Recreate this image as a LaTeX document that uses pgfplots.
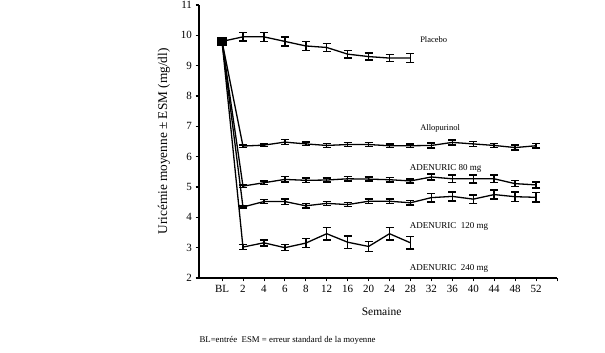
\documentclass[border=0pt]{standalone}
\usepackage{pgfplots}
\pgfplotsset{compat=1.18}
\usepackage{pgfplotstable}
\usepackage{fontspec}
\setmainfont{Liberation Serif}

\pgfplotstableread{
x y e
0 9.80 0
1 9.95 0.14
2 9.95 0.15
3 9.80 0.15
4 9.65 0.15
5 9.60 0.13
6 9.38 0.12
7 9.30 0.11
8 9.25 0.12
9 9.25 0.15
}\placebo
\pgfplotstableread{
x y e
0 9.80 0
1 6.35 0.04
2 6.38 0.04
3 6.48 0.08
4 6.42 0.06
5 6.37 0.06
6 6.40 0.06
7 6.40 0.06
8 6.36 0.06
9 6.36 0.06
10 6.37 0.08
11 6.47 0.08
12 6.42 0.08
13 6.37 0.07
14 6.30 0.08
15 6.36 0.08
}\allo
\pgfplotstableread{
x y e
0 9.80 0
1 5.03 0.04
2 5.14 0.05
3 5.25 0.09
4 5.22 0.07
5 5.23 0.07
6 5.27 0.08
7 5.26 0.07
8 5.24 0.07
9 5.20 0.07
10 5.33 0.10
11 5.27 0.12
12 5.27 0.13
13 5.27 0.12
14 5.11 0.10
15 5.07 0.10
}\aeighty
\pgfplotstableread{
x y e
0 9.80 0
1 4.34 0.04
2 4.52 0.07
3 4.52 0.09
4 4.38 0.07
5 4.46 0.07
6 4.42 0.07
7 4.53 0.08
8 4.53 0.07
9 4.48 0.08
10 4.65 0.14
11 4.69 0.15
12 4.60 0.14
13 4.75 0.15
14 4.68 0.15
15 4.66 0.16
}\aonetwenty
\pgfplotstableread{
x y e
0 9.80 0
1 3.02 0.08
2 3.16 0.10
3 3.00 0.10
4 3.15 0.15
5 3.46 0.20
6 3.18 0.20
7 3.04 0.17
8 3.46 0.20
9 3.16 0.20
}\atwoforty

\begin{document}
\begin{tikzpicture}[x=1pt,y=1pt]
\useasboundingbox (0,0) rectangle (605,353);
\begin{axis}[
  at={(199pt,75pt)}, anchor=south west,
  scale only axis, width=358pt, height=273pt,
  xmin=-1.1, xmax=16, ymin=2, ymax=11,
  axis x line*=bottom, axis y line*=left,
  axis line style={line width=1.4pt, -},
  xtick={0,...,15},
  xticklabels={BL,2,4,6,8,12,16,20,24,28,32,36,40,44,48,52},
  extra x ticks={16}, extra x tick labels={},
  ytick={2,...,11},
  x tick style={line width=0.8pt, black},
  y tick style={line width=1.2pt, black},
  tick align=outside, major tick length=3.5pt,
  tick label style={font=\fontsize{11}{12}\selectfont},
  /pgf/number format/assume math mode=true,
  xlabel={Semaine},
  ylabel={Uricémie moyenne ± ESM (mg/dl)},
  xlabel style={font=\fontsize{11.5}{13}\selectfont, at={(axis description cs:0.51,-0.125)}, anchor=center},
  ylabel style={font=\fontsize{13.3}{15}\selectfont, at={(axis description cs:-0.098,0.5)}, anchor=center},
  cycle list={{black,solid,mark=none}},
  every axis plot/.append style={line width=1.3pt},
  error bars/y dir=both, error bars/y explicit,
  error bars/error bar style={line width=1.5pt, black},
  error bars/error mark options={rotate=90, mark size=4pt, line width=1.5pt, black},
  clip=false,
]
\addplot table[x=x,y=y,y error=e] {\placebo};
\addplot table[x=x,y=y,y error=e] {\allo};
\addplot table[x=x,y=y,y error=e] {\aeighty};
\addplot table[x=x,y=y,y error=e] {\aonetwenty};
\addplot table[x=x,y=y,y error=e] {\atwoforty};
\addplot[black, only marks, mark=square*, mark size=4pt, error bars/y dir=none] coordinates {(0,9.80)};
\node[anchor=west, font=\fontsize{8.5}{10}\selectfont] at (axis cs:9.3,9.87) {Placebo};
\node[anchor=west, font=\fontsize{8.5}{10}\selectfont] at (axis cs:9.3,6.93) {Allopurinol};
\node[anchor=west, font=\fontsize{9}{10}\selectfont] at (axis cs:8.8,5.60) {ADENURIC 80 mg};
\node[anchor=west, font=\fontsize{9}{10}\selectfont] at (axis cs:8.8,3.71) {ADENURIC \ 120 mg};
\node[anchor=west, font=\fontsize{9}{10}\selectfont] at (axis cs:8.8,2.33) {ADENURIC \ 240 mg};
\end{axis}
\node[anchor=west, font=\fontsize{8.8}{10}\selectfont] at (196,13) {BL=entrée \ ESM = erreur standard de la moyenne};
\end{tikzpicture}
\end{document}
